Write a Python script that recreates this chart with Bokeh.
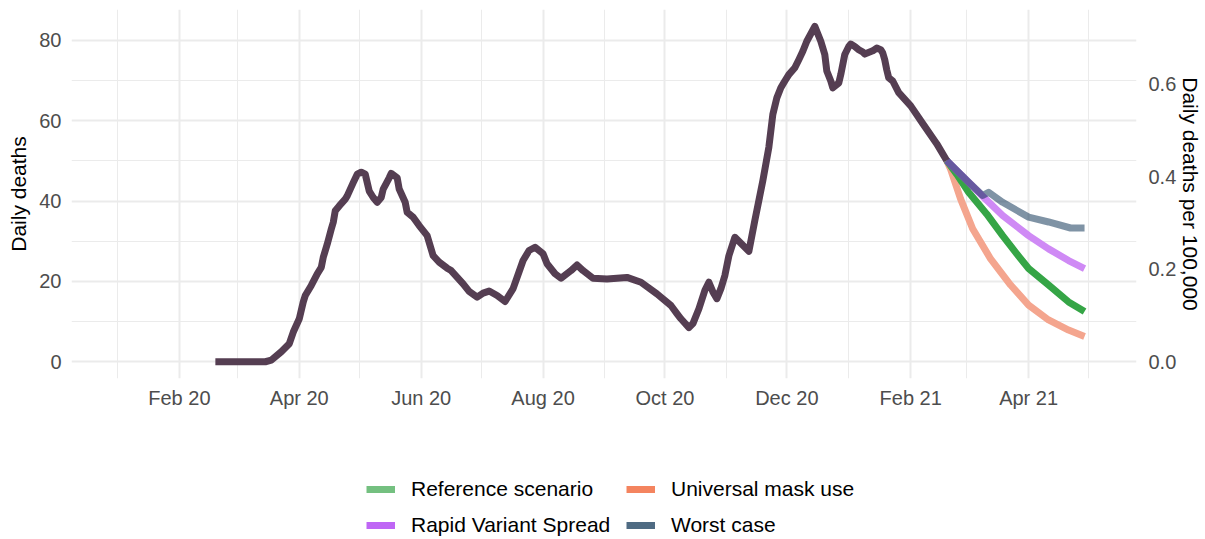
import pandas as pd
from bokeh.plotting import figure
from bokeh.models import (Range1d, LinearAxis, FixedTicker, DatetimeTickFormatter,
                          PrintfTickFormatter, Legend, LegendItem, ColumnDataSource)
from bokeh.layouts import column
from bokeh.embed import file_html
from bokeh.resources import INLINE

# ---------------- data ----------------
hist_dates = [
    "2020-02-19", "2020-03-15", "2020-03-18", "2020-03-23", "2020-03-27", "2020-03-29",
    "2020-04-01", "2020-04-03", "2020-04-04", "2020-04-07", "2020-04-10", "2020-04-12",
    "2020-04-13", "2020-04-15", "2020-04-17", "2020-04-18", "2020-04-19", "2020-04-21",
    "2020-04-24", "2020-04-25", "2020-04-28", "2020-04-30", "2020-05-02", "2020-05-04",
    "2020-05-06", "2020-05-08", "2020-05-10", "2020-05-12", "2020-05-13", "2020-05-16",
    "2020-05-17", "2020-05-20", "2020-05-21", "2020-05-24", "2020-05-25", "2020-05-28",
    "2020-05-31", "2020-06-04", "2020-06-07", "2020-06-10", "2020-06-14", "2020-06-16",
    "2020-06-22", "2020-06-25", "2020-06-29", "2020-07-02", "2020-07-05", "2020-07-09",
    "2020-07-13", "2020-07-17", "2020-07-20", "2020-07-22", "2020-07-25", "2020-07-28",
    "2020-08-01", "2020-08-03", "2020-08-07", "2020-08-10", "2020-08-15", "2020-08-18",
    "2020-08-21", "2020-08-26", "2020-09-02", "2020-09-12", "2020-09-19", "2020-09-27",
    "2020-10-04", "2020-10-07", "2020-10-09", "2020-10-13", "2020-10-15", "2020-10-18",
    "2020-10-21", "2020-10-23", "2020-10-25", "2020-10-27", "2020-10-29", "2020-10-31",
    "2020-11-02", "2020-11-05", "2020-11-12", "2020-11-15", "2020-11-19", "2020-11-22",
    "2020-11-24", "2020-11-26", "2020-11-28", "2020-11-30", "2020-12-02", "2020-12-05",
    "2020-12-07", "2020-12-09", "2020-12-11", "2020-12-15",
    "2020-12-18", "2020-12-20", "2020-12-21", "2020-12-23", "2020-12-24", "2020-12-27",
    "2020-12-28", "2020-12-30", "2021-01-01", "2021-01-02", "2021-01-04", "2021-01-06",
    "2021-01-08", "2021-01-09", "2021-01-13", "2021-01-15", "2021-01-17", "2021-01-18",
    "2021-01-19", "2021-01-20", "2021-01-21", "2021-01-23", "2021-01-26", "2021-02-01",
    "2021-02-07", "2021-02-14", "2021-02-19",
]
hist_deaths = [
    0.0, 0.0, 0.4, 2.5, 4.5, 7.4,
    10.7, 14.9, 16.5, 19.0, 21.9, 23.5,
    26.0, 29.3, 33.0, 34.7, 37.6, 38.8,
    40.5, 41.3, 44.6, 46.7, 47.2, 46.7,
    42.5, 40.9, 39.7, 40.9, 43.0, 45.8,
    46.9, 45.8, 43.0, 39.7, 37.2, 36.0,
    33.9, 31.4, 26.4, 24.8, 23.3, 22.7,
    19.4, 17.5, 16.1, 17.1, 17.6, 16.5,
    15.0, 18.2, 22.4, 25.2, 27.7, 28.5,
    26.9, 24.4, 21.9, 20.8, 22.7, 24.1,
    22.7, 20.8, 20.6, 21.0, 19.8, 16.9,
    14.0, 12.0, 10.7, 8.5, 9.5, 13.2,
    17.8, 19.8, 17.4, 15.7, 18.2, 21.5,
    26.4, 31.0, 27.5, 35.2, 45.1, 53.4,
    61.6, 65.7, 68.2, 69.9, 71.5, 73.2,
    75.2, 77.3, 79.8, 83.5,
    79.8, 76.5, 72.4, 69.9, 68.2, 69.4,
    71.5, 76.5, 78.5, 79.1, 78.5, 77.7,
    77.1, 76.6, 77.4, 78.1, 77.7, 76.9,
    75.2, 72.7, 70.7, 69.9, 67.0, 63.7,
    59.3, 54.3, 50.1,
]

ref_dates = ["2021-02-19", "2021-02-24", "2021-03-02", "2021-03-11", "2021-03-19",
             "2021-03-26", "2021-04-01", "2021-04-11", "2021-04-21", "2021-04-29"]
ref_deaths = [50.1, 46.7, 42.2, 36.8, 31.4, 26.9, 23.2, 19.1, 14.9, 12.5]

mask_dates = ["2021-02-19", "2021-02-21", "2021-02-26", "2021-03-04", "2021-03-13",
              "2021-03-23", "2021-04-01", "2021-04-11", "2021-04-21", "2021-04-29"]
mask_deaths = [50.1, 47.9, 40.5, 33.1, 25.6, 19.1, 14.1, 10.4, 7.9, 6.3]

variant_dates = ["2021-02-19", "2021-03-02", "2021-03-09", "2021-03-19", "2021-04-01",
                 "2021-04-11", "2021-04-21", "2021-04-29"]
variant_deaths = [50.1, 44.7, 41.2, 36.4, 31.4, 28.1, 25.2, 23.2]

worst_dates = ["2021-02-19", "2021-03-02", "2021-03-09", "2021-03-12", "2021-03-19",
               "2021-04-01", "2021-04-11", "2021-04-22", "2021-04-29"]
worst_deaths = [50.1, 44.7, 41.4, 42.2, 39.7, 36.0, 34.8, 33.3, 33.3]

POPULATION = 11_520_000  # scale of the secondary axis (deaths per 100,000)

series_labels = ["Reference scenario", "Rapid Variant Spread", "Universal mask use", "Worst case"]

x_major = ["2020-02-01", "2020-04-01", "2020-06-01", "2020-08-01", "2020-10-01",
           "2020-12-01", "2021-02-01", "2021-04-01"]
x_minor = ["2020-01-01", "2020-03-01", "2020-05-01", "2020-07-01", "2020-09-01",
           "2020-11-01", "2021-01-01", "2021-03-01", "2021-05-01"]
y_major = [0, 20, 40, 60, 80]
y_minor = [10, 30, 50, 70]
y2_major = [0.0, 0.2, 0.4, 0.6]

X_START, X_END = "2019-12-09", "2021-05-25"
Y_START, Y_END = -4.17, 87.7

# ---------------- styling ----------------
FONT = "Liberation Sans"
HIST_COLOR = "#553e52"
LINE_COLORS = {"ref": "#35a546", "mask": "#f4a58e", "variant": "#cf8af5", "worst": "#00274b"}
WORST_ALPHA = 0.5
KEY_COLORS = {"ref": "#74c080", "mask": "#f4845f", "variant": "#bf66f5", "worst": "#4f6b83"}
GRID = "#ebebeb"


def ms(d):
    return pd.Timestamp(d).value // 10**6


def src(dates, vals):
    return ColumnDataSource(dict(x=pd.to_datetime(dates), y=vals))


p = figure(width=1205, height=411, x_axis_type="datetime",
           x_range=Range1d(pd.Timestamp(X_START), pd.Timestamp(X_END)),
           y_range=Range1d(Y_START, Y_END),
           output_backend="svg", toolbar_location=None,
           min_border_top=9, min_border_bottom=0, min_border_left=71, min_border_right=69)
p.outline_line_color = None

k = 1e5 / POPULATION
p.extra_y_ranges = {"per100k": Range1d(Y_START * k, Y_END * k)}
ax2 = LinearAxis(y_range_name="per100k", ticker=FixedTicker(ticks=y2_major),
                 formatter=PrintfTickFormatter(format="%.1f"),
                 axis_label="Daily deaths per 100,000")
p.add_layout(ax2, "right")

p.xaxis.ticker = FixedTicker(ticks=[ms(d) for d in x_major], minor_ticks=[ms(d) for d in x_minor])
fmt = "%b %y"
p.xaxis.formatter = DatetimeTickFormatter(years=fmt, months=fmt, days=fmt, hours=fmt,
                                          minutes=fmt, seconds=fmt, milliseconds=fmt,
                                          microseconds=fmt, hourmin=fmt, minsec=fmt)
p.yaxis[0].ticker = FixedTicker(ticks=y_major, minor_ticks=y_minor)
p.yaxis[0].axis_label = "Daily deaths"

for ax in p.axis:
    ax.axis_line_color = None
    ax.major_tick_line_color = None
    ax.minor_tick_line_color = None
    ax.major_tick_out = 0
    ax.major_tick_in = 0
    ax.minor_tick_out = 0
    ax.minor_tick_in = 0
    ax.major_label_text_font = FONT
    ax.major_label_text_font_size = "20px"
    ax.major_label_text_color = "#4d4d4d"
    ax.axis_label_text_font = FONT
    ax.axis_label_text_font_size = "21px"
    ax.axis_label_text_font_style = "normal"
    ax.axis_label_text_color = "#000000"

p.xaxis.major_label_standoff = 8
p.yaxis[0].major_label_standoff = 10
p.yaxis[0].axis_label_standoff = 6
ax2.major_label_standoff = 12
ax2.axis_label_standoff = 0

for g in (p.xgrid, p.ygrid):
    g.grid_line_color = GRID
    g.grid_line_width = 2
    g.minor_grid_line_color = GRID
    g.minor_grid_line_width = 1

LW = 7
p.line("x", "y", source=src(mask_dates, mask_deaths), line_color=LINE_COLORS["mask"],
       line_width=LW, line_join="round")
p.line("x", "y", source=src(ref_dates, ref_deaths), line_color=LINE_COLORS["ref"],
       line_width=LW, line_join="round")
p.line("x", "y", source=src(variant_dates, variant_deaths), line_color=LINE_COLORS["variant"],
       line_width=LW, line_join="round")
p.line("x", "y", source=src(worst_dates, worst_deaths), line_color=LINE_COLORS["worst"],
       line_alpha=WORST_ALPHA, line_width=LW, line_join="round")
p.line("x", "y", source=src(hist_dates, hist_deaths), line_color=HIST_COLOR,
       line_width=LW, line_join="round")

# ---------------- legend (separate strip below) ----------------
p2 = figure(width=1205, height=128, output_backend="svg", toolbar_location=None,
            x_range=Range1d(0, 1), y_range=Range1d(0, 1),
            x_axis_location=None, y_axis_location=None,
            min_border_top=0, min_border_bottom=0, min_border_left=0, min_border_right=0)
p2.outline_line_color = None
p2.grid.visible = False

keys = ["ref", "variant", "mask", "worst"]
items = []
for key, lab in zip(keys, series_labels):
    r = p2.line(x=[float("nan")], y=[float("nan")], line_color=KEY_COLORS[key], line_width=7)
    items.append(LegendItem(label=lab, renderers=[r]))

legend = Legend(items=items, location=(295, 2), orientation="vertical", nrows=2,
                spacing=12, padding=0, margin=0, label_standoff=16,
                glyph_width=29, glyph_height=24, label_height=24, label_width=203,
                label_text_font=FONT, label_text_font_size="21px",
                label_text_color="#000000", border_line_color=None,
                background_fill_alpha=0)
p2.add_layout(legend, "center")

layout = column(p, p2, spacing=0)
open("out.html", "w").write(file_html(layout, INLINE))
